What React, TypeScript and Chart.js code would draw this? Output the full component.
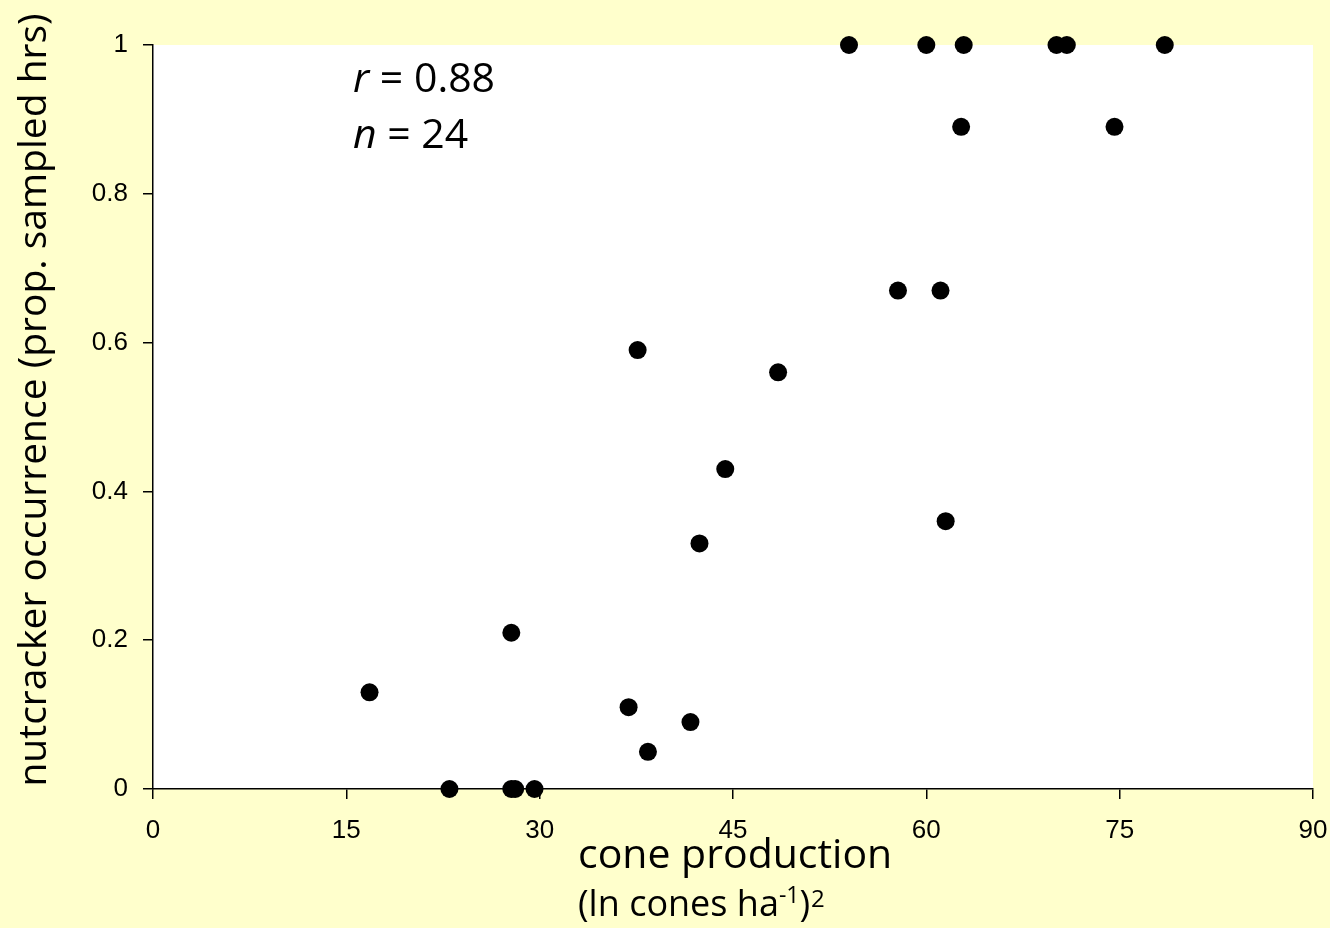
import React, { useEffect, useRef } from "react";
import { Chart, registerables } from "chart.js";

Chart.register(...registerables);

const coneProduction: number[] = [
  16.8, 23.0, 27.8, 27.8, 28.1, 29.6, 36.9, 37.6, 38.4, 41.7, 42.4, 44.4,
  48.5, 54.0, 57.8, 60.0, 61.1, 61.5, 62.7, 62.9, 70.1, 70.9, 74.6, 78.5,
];
const nutcrackerOccurrence: number[] = [
  0.13, 0, 0.21, 0, 0, 0, 0.11, 0.59, 0.05, 0.09, 0.33, 0.43,
  0.56, 1, 0.67, 1, 0.67, 0.36, 0.89, 1, 1, 1, 0.89, 1,
];
const xTickValues: number[] = [0, 15, 30, 45, 60, 75, 90];
const yTickValues: number[] = [0, 0.2, 0.4, 0.6, 0.8, 1];
const yTitle = "nutcracker occurrence (prop. sampled hrs)";
const xTitle = "cone production";
const xSubtitleMain = "(ln cones ha";
const xSubtitleSup1 = "-1";
const xSubtitleClose = ")";
const xSubtitleSup2 = "2";
const statR = "0.88";
const statN = "24";

const BG = "#FFFFCC";
const TITLE_FONT = "'Open Sans', 'Noto Sans', sans-serif";
const TICK_FONT = "'Liberation Sans', Arial, sans-serif";

const decorPlugin = {
  id: "decor",
  beforeDraw(chart: any) {
    const { ctx, chartArea, width, height } = chart;
    ctx.save();
    ctx.fillStyle = BG;
    ctx.fillRect(0, 0, width, height);
    ctx.fillStyle = "#FFFFFF";
    ctx.fillRect(
      chartArea.left,
      chartArea.top,
      chartArea.right - chartArea.left,
      chartArea.bottom - chartArea.top
    );
    ctx.restore();
  },
  afterDraw(chart: any) {
    const { ctx, chartArea } = chart;
    ctx.save();
    ctx.fillStyle = "#000";
    ctx.textBaseline = "alphabetic";

    // Y title (rotated)
    ctx.save();
    ctx.translate(46, (chartArea.top + chartArea.bottom) / 2 - 17);
    ctx.rotate(-Math.PI / 2);
    ctx.textAlign = "center";
    ctx.font = `39px ${TITLE_FONT}`;
    ctx.fillText(yTitle, 0, 0);
    ctx.restore();

    // X title
    ctx.textAlign = "left";
    const x0 = 578;
    ctx.font = `41px ${TITLE_FONT}`;
    ctx.fillText(xTitle, x0, 868);

    let x = x0;
    ctx.font = `36px ${TITLE_FONT}`;
    ctx.fillText(xSubtitleMain, x, 916);
    x += ctx.measureText(xSubtitleMain).width;
    ctx.font = `23px ${TITLE_FONT}`;
    ctx.fillText(xSubtitleSup1, x, 903);
    x += ctx.measureText(xSubtitleSup1).width;
    ctx.font = `36px ${TITLE_FONT}`;
    ctx.fillText(xSubtitleClose, x, 916);
    x += ctx.measureText(xSubtitleClose).width + 1;
    ctx.font = `24px ${TITLE_FONT}`;
    ctx.fillText(xSubtitleSup2, x, 907);

    // Stats
    const sx = 353;
    ctx.font = `italic 41px ${TITLE_FONT}`;
    ctx.fillText("r", sx, 92);
    let w = ctx.measureText("r").width;
    ctx.font = `41px ${TITLE_FONT}`;
    ctx.fillText(" = " + statR, sx + w, 92);

    ctx.font = `italic 41px ${TITLE_FONT}`;
    ctx.fillText("n", sx, 148);
    w = ctx.measureText("n").width;
    ctx.font = `41px ${TITLE_FONT}`;
    ctx.fillText(" = " + statN, sx + w, 148);

    ctx.restore();
  },
};

export default function App() {
  const canvasRef = useRef<HTMLCanvasElement | null>(null);

  useEffect(() => {
    document.body.style.margin = "0";
    document.body.style.background = BG;
    const canvas = canvasRef.current;
    if (!canvas) return;
    const points = coneProduction.map((v, i) => ({ x: v, y: nutcrackerOccurrence[i] }));

    const chart = new Chart(canvas, {
      type: "scatter",
      data: {
        datasets: [
          {
            data: points,
            pointRadius: 9,
            pointHoverRadius: 9,
            pointBackgroundColor: "#000",
            pointBorderColor: "#000",
            pointBorderWidth: 0,
            clip: false as any,
          },
        ],
      },
      options: {
        animation: false,
        responsive: false,
        devicePixelRatio: 1,
        layout: { padding: { left: 0, right: 17, top: 45, bottom: 0 } },
        plugins: {
          legend: { display: false },
          tooltip: { enabled: false },
        },
        scales: {
          x: {
            type: "linear",
            min: 0,
            max: 90,
            afterFit: (s: any) => {
              s.height = 139;
              s.paddingLeft = 0;
              s.paddingRight = 0;
            },
            afterBuildTicks: (s: any) => {
              s.ticks = xTickValues.map((v) => ({ value: v }));
            },
            border: { display: true, color: "#000", width: 1.5 },
            grid: {
              display: true,
              drawOnChartArea: false,
              drawTicks: true,
              tickLength: 10,
              color: "#000",
              lineWidth: 1.5,
            },
            ticks: {
              padding: 16,
              color: "#000",
              font: { family: TICK_FONT, size: 26 },
              maxRotation: 0,
              autoSkip: false,
              callback: (v: any) => String(Math.round(Number(v) * 100) / 100),
            },
          },
          y: {
            type: "linear",
            min: 0,
            max: 1,
            afterFit: (s: any) => {
              s.width = 153;
              s.paddingTop = 0;
              s.paddingBottom = 0;
            },
            afterBuildTicks: (s: any) => {
              s.ticks = yTickValues.map((v) => ({ value: v }));
            },
            border: { display: true, color: "#000", width: 1.5 },
            grid: {
              display: true,
              drawOnChartArea: false,
              drawTicks: true,
              tickLength: 10,
              color: "#000",
              lineWidth: 1.5,
            },
            ticks: {
              padding: 15,
              color: "#000",
              font: { family: TICK_FONT, size: 26 },
              autoSkip: false,
              callback: (v: any) => String(Math.round(Number(v) * 100) / 100),
            },
          },
        },
      },
      plugins: [decorPlugin],
    });
    return () => chart.destroy();
  }, []);

  return (
    <div style={{ width: 1330, height: 928, background: BG }}>
      <canvas ref={canvasRef} width={1330} height={928} style={{ display: "block" }} />
    </div>
  );
}
